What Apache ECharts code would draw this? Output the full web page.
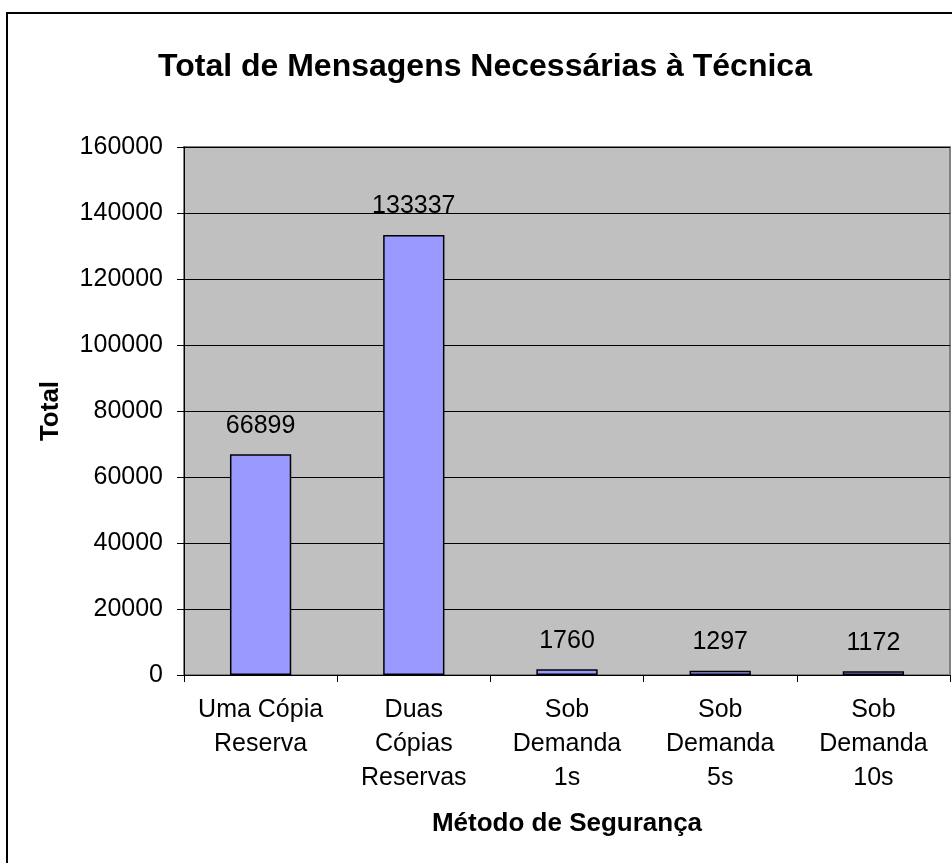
<!DOCTYPE html>
<html>
<head>
<meta charset="utf-8">
<script src="https://cdn.jsdelivr.net/npm/echarts@6/dist/echarts.min.js"></script>
<style>
  html, body { margin: 0; padding: 0; background: #fff; }
  #chart { width: 952px; height: 863px; }
</style>
</head>
<body>
<div id="chart"></div>
<script>
var categories = ['Uma Cópia\nReserva', 'Duas\nCópias\nReservas', 'Sob\nDemanda\n1s', 'Sob\nDemanda\n5s', 'Sob\nDemanda\n10s'];
var totals = [66899, 133337, 1760, 1297, 1172];
var yTicks = [0, 20000, 40000, 60000, 80000, 100000, 120000, 140000, 160000];

var font = '"Liberation Sans", Arial, sans-serif';
var chart = echarts.init(document.getElementById('chart'));

var option = {
  animation: false,
  textStyle: { fontFamily: font, color: '#000' },
  title: {
    text: 'Total de Mensagens Necessárias à Técnica',
    left: 153,
    top: 46,
    textStyle: { fontFamily: font, fontSize: 32, fontWeight: 'bold', color: '#000' }
  },
  graphic: [{
    type: 'rect',
    shape: { x: 7, y: 13, width: 980, height: 900 },
    style: { fill: null, stroke: '#000', lineWidth: 2 },
    silent: true
  }],
  grid: {
    left: 184, right: 2, top: 147, bottom: 188,
    show: true,
    backgroundColor: '#C0C0C0',
    borderColor: '#808080',
    borderWidth: 2
  },
  xAxis: {
    type: 'category',
    data: categories,
    name: 'Método de Segurança',
    nameLocation: 'middle',
    nameGap: 136,
    nameTextStyle: { fontFamily: font, fontSize: 26, fontWeight: 'bold', color: '#000' },
    axisLine: { lineStyle: { color: '#000', width: 1 } },
    axisTick: { show: true, length: 7, lineStyle: { color: '#000' } },
    axisLabel: {
      interval: 0, margin: 18, fontSize: 25, lineHeight: 34,
      color: '#000', fontFamily: font
    }
  },
  yAxis: {
    type: 'value',
    min: yTicks[0],
    max: yTicks[yTicks.length - 1],
    interval: yTicks[1] - yTicks[0],
    name: 'Total',
    nameLocation: 'middle',
    nameRotate: 90,
    nameGap: 120,
    nameTextStyle: { fontFamily: font, fontSize: 26, fontWeight: 'bold', color: '#000' },
    axisLine: { show: true, lineStyle: { color: '#000', width: 1 } },
    axisTick: { show: true, length: 7, lineStyle: { color: '#000' } },
    axisLabel: {
      margin: 21, fontSize: 25, color: '#000', fontFamily: font,
      formatter: function (v) { return String(v); }
    },
    splitLine: { show: true, lineStyle: { color: '#000', width: 1 } }
  },
  series: [{
    type: 'bar',
    data: totals,
    barWidth: '40%',
    itemStyle: { color: '#9999FF', borderColor: '#000', borderWidth: 1.5 },
    label: {
      show: true,
      position: 'top',
      distance: 16,
      fontSize: 25,
      color: '#000',
      fontFamily: font
    }
  }]
};

chart.setOption(option);
</script>
</body>
</html>
